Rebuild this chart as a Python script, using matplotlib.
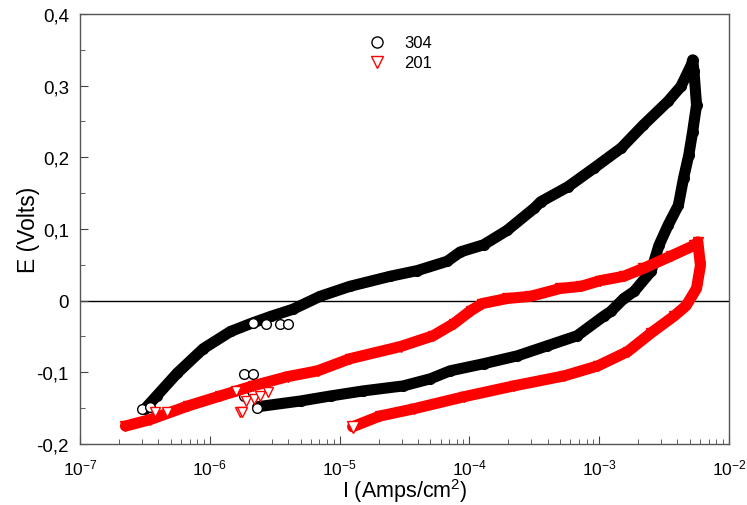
import math
import matplotlib
matplotlib.use('Agg')
import matplotlib.pyplot as plt
from matplotlib.ticker import FixedLocator, FuncFormatter, LogLocator, NullFormatter

plt.rcParams['font.family'] = ['Liberation Sans', 'DejaVu Sans']
plt.rcParams['mathtext.fontset'] = 'custom'
plt.rcParams['mathtext.rm'] = 'Liberation Sans'
plt.rcParams['mathtext.it'] = 'Liberation Sans:italic'
plt.rcParams['mathtext.bf'] = 'Liberation Sans:bold'
plt.rcParams['mathtext.default'] = 'regular'

# 304 : log10(I), E  (forward then reverse scan)
logi_304 = [-6.50, -6.41, -6.25, -6.05, -5.84, -5.67, -5.53, -5.36, -5.15, -4.92,
            -4.61, -4.40, -4.17, -4.07, -3.89, -3.71, -3.50, -3.45, -3.24, -3.04,
            -2.83, -2.66, -2.47, -2.37, -2.29, -2.28,
            -2.27, -2.25, -2.28, -2.31, -2.35, -2.39, -2.47, -2.54, -2.60, -2.73,
            -2.81, -2.91, -2.96, -3.17, -3.40, -3.63, -3.89, -4.15, -4.30, -4.51,
            -4.82, -5.07, -5.30, -5.63]
e_304 = [-0.151, -0.133, -0.101, -0.067, -0.043, -0.031, -0.022, -0.012, 0.006, 0.020,
         0.034, 0.042, 0.055, 0.068, 0.078, 0.098, 0.129, 0.138, 0.159, 0.185,
         0.213, 0.245, 0.278, 0.299, 0.329, 0.336,
         0.320, 0.273, 0.236, 0.203, 0.171, 0.133, 0.105, 0.077, 0.041, 0.013,
         0.003, -0.015, -0.021, -0.049, -0.063, -0.077, -0.088, -0.098, -0.109, -0.119,
         -0.126, -0.133, -0.140, -0.148]
# scattered points of 304
logi_304s = [-6.52, -6.46, -5.67, -5.57, -5.46, -5.40, -5.74, -5.67, -5.74, -5.64]
e_304s = [-0.151, -0.148, -0.031, -0.032, -0.032, -0.032, -0.102, -0.102, -0.133, -0.150]

# 201 : log10(I), E
logi_201 = [-6.65, -6.46, -6.17, -5.92, -5.67, -5.40, -5.17, -4.92, -4.53, -4.28,
            -4.12, -3.99, -3.90, -3.71, -3.53, -3.30, -3.14, -2.99, -2.81, -2.66,
            -2.45, -2.27, -2.24,
            -2.22, -2.25, -2.33, -2.42, -2.60, -2.78, -3.01, -3.27, -3.66, -4.04,
            -4.43, -4.69, -4.90]
e_201 = [-0.175, -0.166, -0.147, -0.133, -0.119, -0.106, -0.098, -0.081, -0.064, -0.049,
         -0.032, -0.014, -0.004, 0.003, 0.006, 0.017, 0.020, 0.028, 0.034, 0.045,
         0.062, 0.077, 0.082,
         0.049, 0.017, -0.007, -0.021, -0.045, -0.071, -0.091, -0.105, -0.119, -0.134,
         -0.151, -0.161, -0.176]
logi_201s = [-6.42, -6.33, -5.80, -5.72, -5.66, -5.61, -5.55, -5.77, -5.75]
e_201s = [-0.155, -0.155, -0.126, -0.140, -0.137, -0.133, -0.128, -0.155, -0.155]

xticks = [1e-7, 1e-6, 1e-5, 1e-4, 1e-3, 1e-2]
yticks = [-0.2, -0.1, 0, 0.1, 0.2, 0.3, 0.4]

fig = plt.figure(figsize=(7.47, 5.06), dpi=100)
ax = fig.add_axes([0.1071, 0.1206, 0.8688, 0.8498])

x304 = [10 ** v for v in logi_304]
x201 = [10 ** v for v in logi_201]

ax.axhline(0, color='black', lw=1, zorder=1)

ax.plot(x304, e_304, '-', color='black', lw=8, solid_capstyle='round',
        solid_joinstyle='round', zorder=2)
ax.plot(x304, e_304, 'o', mfc='none', mec='black', ms=7, mew=1, zorder=3)
ax.plot([10 ** v for v in logi_304s], e_304s, 'o', mfc='white', mec='black',
        ms=7, mew=1, zorder=3)

ax.plot(x201, e_201, '-', color='red', lw=8, solid_capstyle='round',
        solid_joinstyle='round', zorder=4)
ax.plot(x201, e_201, 'v', mfc='none', mec='red', ms=7, mew=1, zorder=5)
ax.plot([10 ** v for v in logi_201s], e_201s, 'v', mfc='white', mec='red',
        ms=7, mew=1, zorder=5)
ax.plot([x201[-1]], [e_201[-1]], 'v', mfc='white', mec='red', ms=8, mew=1, zorder=6)

# legend
h1, = ax.plot([], [], 'o', mfc='none', mec='black', ms=8)
h2, = ax.plot([], [], 'v', mfc='none', mec='red', ms=8)
ax.legend([h1, h2], ['304', '201'], loc='upper left', bbox_to_anchor=(0.415, 0.985),
          frameon=False, fontsize=12, handletextpad=0.9, labelspacing=0.3,
          handlelength=1.5)

ax.set_xscale('log')
ax.set_xlim(1e-7, 1e-2)
ax.set_ylim(-0.2, 0.4)
ax.xaxis.set_major_locator(FixedLocator(xticks))
ax.xaxis.set_minor_locator(LogLocator(base=10, subs=range(2, 10), numticks=20))
ax.xaxis.set_minor_formatter(NullFormatter())
ax.xaxis.set_major_formatter(FuncFormatter(
    lambda v, p: r'$10^{%d}$' % round(math.log10(v))))
ax.yaxis.set_major_locator(FixedLocator(yticks))
ax.yaxis.set_minor_locator(FixedLocator([-0.15, -0.05, 0.05, 0.15, 0.25, 0.35]))
ax.yaxis.set_major_formatter(FuncFormatter(
    lambda v, p: '0' if abs(v) < 1e-9 else ('%.1f' % v).replace('.', ',')))

ax.tick_params(which='both', direction='in', color='#444444')
ax.tick_params(which='major', length=6)
ax.tick_params(which='minor', length=3.5)
ax.tick_params(axis='y', labelsize=13.5, pad=8)
ax.tick_params(axis='x', labelsize=12.5, pad=10)
for s in ax.spines.values():
    s.set_color('#555555')
    s.set_linewidth(1)

ax.set_xlabel(r'I (Amps/cm$^2$)', fontsize=15.5)
ax.set_ylabel('E (Volts)', fontsize=16.5)
ax.xaxis.set_label_coords(0.5, -0.074)
ax.yaxis.set_label_coords(-0.062, 0.5)

fig.savefig('out.png', dpi=100)
